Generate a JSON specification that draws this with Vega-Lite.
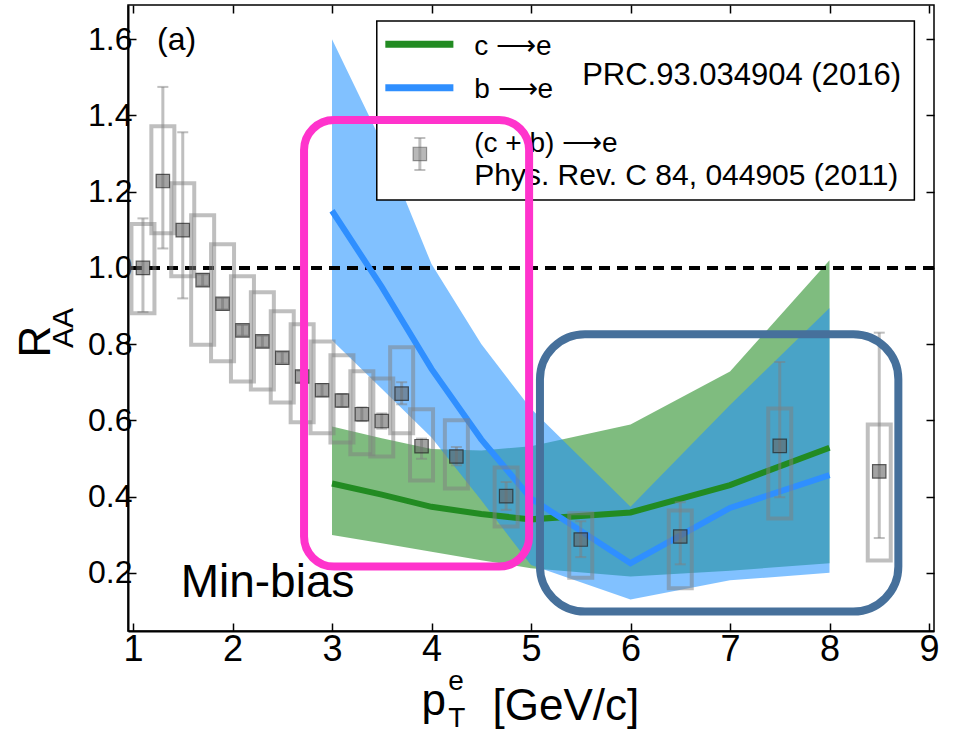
{
  "$schema": "https://vega.github.io/schema/vega-lite/v6.json",
  "width": 806,
  "height": 626,
  "autosize": {"type": "none"},
  "padding": {"left": 128, "top": 5, "right": 27, "bottom": 106},
  "background": "white",
  "config": {
    "view": {"stroke": "#000000", "strokeWidth": 1.5},
    "axis": {
      "grid": false,
      "domainColor": "#000000",
      "domainWidth": 2,
      "tickColor": "#000000",
      "tickWidth": 1.5,
      "tickSize": -8,
      "labelColor": "#000000",
      "labelFont": "Liberation Sans"
    },
    "text": {"font": "Liberation Sans", "color": "#000000"}
  },
  "datasets": {
    "theory": [
      {"process": "c", "pt": 3, "mid": 0.434, "lo": 0.299, "hi": 0.584},
      {"process": "c", "pt": 3.5, "mid": 0.405, "lo": 0.277, "hi": 0.553},
      {"process": "c", "pt": 4, "mid": 0.373, "lo": 0.255, "hi": 0.525},
      {"process": "c", "pt": 4.5, "mid": 0.354, "lo": 0.233, "hi": 0.521},
      {"process": "c", "pt": 5, "mid": 0.340, "lo": 0.212, "hi": 0.532},
      {"process": "c", "pt": 6, "mid": 0.358, "lo": 0.190, "hi": 0.589},
      {"process": "c", "pt": 7, "mid": 0.430, "lo": 0.205, "hi": 0.728},
      {"process": "c", "pt": 8, "mid": 0.528, "lo": 0.225, "hi": 1.02},
      {"process": "b", "pt": 3, "mid": 1.15, "lo": 0.81, "hi": 1.60},
      {"process": "b", "pt": 3.5, "mid": 0.95, "lo": 0.683, "hi": 1.33},
      {"process": "b", "pt": 4, "mid": 0.735, "lo": 0.555, "hi": 1.01},
      {"process": "b", "pt": 4.5, "mid": 0.55, "lo": 0.39, "hi": 0.80},
      {"process": "b", "pt": 5, "mid": 0.395, "lo": 0.22, "hi": 0.63},
      {"process": "b", "pt": 6, "mid": 0.225, "lo": 0.13, "hi": 0.373},
      {"process": "b", "pt": 7, "mid": 0.37, "lo": 0.18, "hi": 0.64},
      {"process": "b", "pt": 8, "mid": 0.456, "lo": 0.20, "hi": 0.895}
    ],
    "phenix": [
      {"pt": 1.1, "raa": 1.0, "sys_lo": 0.881, "sys_hi": 1.115, "stat_lo": 0.884, "stat_hi": 1.130},
      {"pt": 1.3, "raa": 1.228, "sys_lo": 1.091, "sys_hi": 1.372, "stat_lo": 1.051, "stat_hi": 1.475},
      {"pt": 1.5, "raa": 1.099, "sys_lo": 0.978, "sys_hi": 1.222, "stat_lo": 0.92, "stat_hi": 1.356},
      {"pt": 1.7, "raa": 0.968, "sys_lo": 0.798, "sys_hi": 1.138, "stat_lo": 0.953, "stat_hi": 0.983},
      {"pt": 1.9, "raa": 0.906, "sys_lo": 0.755, "sys_hi": 1.062, "stat_lo": 0.891, "stat_hi": 0.921},
      {"pt": 2.1, "raa": 0.836, "sys_lo": 0.702, "sys_hi": 0.978, "stat_lo": 0.822, "stat_hi": 0.850},
      {"pt": 2.3, "raa": 0.807, "sys_lo": 0.681, "sys_hi": 0.936, "stat_lo": 0.792, "stat_hi": 0.822},
      {"pt": 2.5, "raa": 0.764, "sys_lo": 0.647, "sys_hi": 0.886, "stat_lo": 0.749, "stat_hi": 0.779},
      {"pt": 2.7, "raa": 0.715, "sys_lo": 0.595, "sys_hi": 0.852, "stat_lo": 0.700, "stat_hi": 0.730},
      {"pt": 2.9, "raa": 0.679, "sys_lo": 0.566, "sys_hi": 0.807, "stat_lo": 0.663, "stat_hi": 0.695},
      {"pt": 3.1, "raa": 0.652, "sys_lo": 0.542, "sys_hi": 0.771, "stat_lo": 0.635, "stat_hi": 0.669},
      {"pt": 3.3, "raa": 0.616, "sys_lo": 0.511, "sys_hi": 0.729, "stat_lo": 0.598, "stat_hi": 0.634},
      {"pt": 3.5, "raa": 0.598, "sys_lo": 0.505, "sys_hi": 0.710, "stat_lo": 0.578, "stat_hi": 0.618},
      {"pt": 3.7, "raa": 0.670, "sys_lo": 0.566, "sys_hi": 0.792, "stat_lo": 0.642, "stat_hi": 0.700},
      {"pt": 3.9, "raa": 0.532, "sys_lo": 0.442, "sys_hi": 0.629, "stat_lo": 0.499, "stat_hi": 0.552},
      {"pt": 4.25, "raa": 0.505, "sys_lo": 0.421, "sys_hi": 0.600, "stat_lo": 0.482, "stat_hi": 0.530},
      {"pt": 4.75, "raa": 0.401, "sys_lo": 0.321, "sys_hi": 0.476, "stat_lo": 0.365, "stat_hi": 0.438},
      {"pt": 5.5, "raa": 0.287, "sys_lo": 0.187, "sys_hi": 0.356, "stat_lo": 0.241, "stat_hi": 0.335},
      {"pt": 6.5, "raa": 0.295, "sys_lo": 0.159, "sys_hi": 0.363, "stat_lo": 0.222, "stat_hi": 0.385},
      {"pt": 7.5, "raa": 0.533, "sys_lo": 0.342, "sys_hi": 0.631, "stat_lo": 0.398, "stat_hi": 0.753},
      {"pt": 8.5, "raa": 0.466, "sys_lo": 0.232, "sys_hi": 0.589, "stat_lo": 0.291, "stat_hi": 0.830}
    ]
  },
  "resolve": {"axis": {"x": "independent", "y": "independent"}},
  "layer": [
    {
      "data": {"name": "theory"},
      "transform": [{"filter": "datum.process === 'c'"}],
      "mark": {"type": "area", "color": "#228B22", "opacity": 0.58},
      "encoding": {
        "x": {"field": "pt", "type": "quantitative",
              "scale": {"domain": [1, 9], "nice": false, "zero": false},
              "axis": {"orient": "bottom", "values": [1, 2, 3, 4, 5, 6, 7, 8, 9], "format": "d",
                       "labelFontSize": 36, "labelPadding": 9, "title": null}},
        "y": {"field": "lo", "type": "quantitative",
              "scale": {"domain": [0.047, 1.69], "nice": false, "zero": false},
              "axis": {"orient": "left", "values": [0.2, 0.4, 0.6, 0.8, 1.0, 1.2, 1.4, 1.6], "format": ".1f",
                       "labelFontSize": 32, "labelPadding": 4, "title": null}},
        "y2": {"field": "hi"}
      }
    },
    {
      "data": {"name": "theory"},
      "transform": [{"filter": "datum.process === 'b'"}],
      "mark": {"type": "area", "color": "#1E90FF", "opacity": 0.56},
      "encoding": {
        "x": {"field": "pt", "type": "quantitative", "scale": {"domain": [1, 9], "nice": false, "zero": false},
              "axis": {"orient": "top", "values": [1, 2, 3, 4, 5, 6, 7, 8, 9], "labels": false, "domain": false, "title": null}},
        "y": {"field": "lo", "type": "quantitative", "scale": {"domain": [0.047, 1.69], "nice": false, "zero": false},
              "axis": {"orient": "right", "values": [0.2, 0.4, 0.6, 0.8, 1.0, 1.2, 1.4, 1.6], "labels": false, "domain": false, "title": null}},
        "y2": {"field": "hi"}
      }
    },
    {
      "data": {"values": [{"unity": 1.0}]},
      "mark": {"type": "rule", "color": "#000000", "strokeWidth": 4, "strokeDash": [11, 7]},
      "encoding": {
        "y": {"field": "unity", "type": "quantitative", "scale": {"domain": [0.047, 1.69], "nice": false, "zero": false}, "axis": null}
      }
    },
    {
      "data": {"name": "theory"},
      "transform": [{"filter": "datum.process === 'c'"}],
      "mark": {"type": "line", "color": "#228B22", "strokeWidth": 6, "strokeCap": "butt"},
      "encoding": {
        "x": {"field": "pt", "type": "quantitative", "scale": {"domain": [1, 9], "nice": false, "zero": false}, "axis": null},
        "y": {"field": "mid", "type": "quantitative", "scale": {"domain": [0.047, 1.69], "nice": false, "zero": false}, "axis": null}
      }
    },
    {
      "data": {"name": "theory"},
      "transform": [{"filter": "datum.process === 'b'"}],
      "mark": {"type": "line", "color": "#2F8FFF", "strokeWidth": 6, "strokeCap": "butt"},
      "encoding": {
        "x": {"field": "pt", "type": "quantitative", "scale": {"domain": [1, 9], "nice": false, "zero": false}, "axis": null},
        "y": {"field": "mid", "type": "quantitative", "scale": {"domain": [0.047, 1.69], "nice": false, "zero": false}, "axis": null}
      }
    },
    {
      "data": {"name": "phenix"},
      "mark": {"type": "bar", "width": 23, "fillOpacity": 0, "stroke": "#808080", "strokeOpacity": 0.5, "strokeWidth": 4},
      "encoding": {
        "x": {"field": "pt", "type": "quantitative", "scale": {"domain": [1, 9], "nice": false, "zero": false}, "axis": null},
        "y": {"field": "sys_lo", "type": "quantitative", "scale": {"domain": [0.047, 1.69], "nice": false, "zero": false}, "axis": null},
        "y2": {"field": "sys_hi"}
      }
    },
    {
      "data": {"name": "phenix"},
      "mark": {"type": "rule", "color": "#808080", "opacity": 0.5, "strokeWidth": 3},
      "encoding": {
        "x": {"field": "pt", "type": "quantitative", "scale": {"domain": [1, 9], "nice": false, "zero": false}, "axis": null},
        "y": {"field": "stat_lo", "type": "quantitative", "scale": {"domain": [0.047, 1.69], "nice": false, "zero": false}, "axis": null},
        "y2": {"field": "stat_hi"}
      }
    },
    {
      "data": {"name": "phenix"},
      "mark": {"type": "tick", "orient": "horizontal", "size": 11, "thickness": 2, "color": "#808080", "opacity": 0.5},
      "encoding": {
        "x": {"field": "pt", "type": "quantitative", "scale": {"domain": [1, 9], "nice": false, "zero": false}, "axis": null},
        "y": {"field": "stat_lo", "type": "quantitative", "scale": {"domain": [0.047, 1.69], "nice": false, "zero": false}, "axis": null}
      }
    },
    {
      "data": {"name": "phenix"},
      "mark": {"type": "tick", "orient": "horizontal", "size": 11, "thickness": 2, "color": "#808080", "opacity": 0.5},
      "encoding": {
        "x": {"field": "pt", "type": "quantitative", "scale": {"domain": [1, 9], "nice": false, "zero": false}, "axis": null},
        "y": {"field": "stat_hi", "type": "quantitative", "scale": {"domain": [0.047, 1.69], "nice": false, "zero": false}, "axis": null}
      }
    },
    {
      "data": {"name": "phenix"},
      "mark": {"type": "point", "shape": "square", "size": 180, "filled": true, "fill": "#666666", "fillOpacity": 0.6, "stroke": "#222222", "strokeOpacity": 0.7, "strokeWidth": 1.2},
      "encoding": {
        "x": {"field": "pt", "type": "quantitative", "scale": {"domain": [1, 9], "nice": false, "zero": false}, "axis": null},
        "y": {"field": "raa", "type": "quantitative", "scale": {"domain": [0.047, 1.69], "nice": false, "zero": false}, "axis": null}
      }
    },
    {
      "data": {"values": [{"x": 3.45, "x2": 8.853, "y": 1.178, "y2": 1.648}]},
      "mark": {"type": "rect", "fill": "#ffffff", "stroke": "#000000", "strokeWidth": 1.5},
      "encoding": {
        "x": {"field": "x", "type": "quantitative", "scale": {"domain": [1, 9], "nice": false, "zero": false}, "axis": null},
        "x2": {"field": "x2"},
        "y": {"field": "y", "type": "quantitative", "scale": {"domain": [0.047, 1.69], "nice": false, "zero": false}, "axis": null},
        "y2": {"field": "y2"}
      }
    },
    {
      "data": {"values": [
        {"process": "c", "x": 3.536, "x2": 4.22, "y": 1.587},
        {"process": "b", "x": 3.536, "x2": 4.22, "y": 1.473}
      ]},
      "mark": {"type": "rule", "strokeWidth": 7, "strokeCap": "butt"},
      "encoding": {
        "x": {"field": "x", "type": "quantitative", "scale": {"domain": [1, 9], "nice": false, "zero": false}, "axis": null},
        "x2": {"field": "x2"},
        "y": {"field": "y", "type": "quantitative", "scale": {"domain": [0.047, 1.69], "nice": false, "zero": false}, "axis": null},
        "color": {"field": "process", "type": "nominal", "scale": {"domain": ["c", "b"], "range": ["#228B22", "#2F8FFF"]}, "legend": null}
      }
    },
    {
      "data": {"values": [{"x": 3.883, "y": 1.299, "lo": 1.257, "hi": 1.341}]},
      "layer": [
        {
          "mark": {"type": "rule", "color": "#808080", "opacity": 0.5, "strokeWidth": 3},
          "encoding": {
            "x": {"field": "x", "type": "quantitative", "scale": {"domain": [1, 9], "nice": false, "zero": false}, "axis": null},
            "y": {"field": "lo", "type": "quantitative", "scale": {"domain": [0.047, 1.69], "nice": false, "zero": false}, "axis": null},
            "y2": {"field": "hi"}
          }
        },
        {
          "mark": {"type": "tick", "orient": "horizontal", "size": 11, "thickness": 2, "color": "#808080", "opacity": 0.5},
          "encoding": {
            "x": {"field": "x", "type": "quantitative", "scale": {"domain": [1, 9], "nice": false, "zero": false}, "axis": null},
            "y": {"field": "lo", "type": "quantitative", "scale": {"domain": [0.047, 1.69], "nice": false, "zero": false}, "axis": null}
          }
        },
        {
          "mark": {"type": "tick", "orient": "horizontal", "size": 11, "thickness": 2, "color": "#808080", "opacity": 0.5},
          "encoding": {
            "x": {"field": "x", "type": "quantitative", "scale": {"domain": [1, 9], "nice": false, "zero": false}, "axis": null},
            "y": {"field": "hi", "type": "quantitative", "scale": {"domain": [0.047, 1.69], "nice": false, "zero": false}, "axis": null}
          }
        },
        {
          "mark": {"type": "point", "shape": "square", "size": 180, "filled": true, "fill": "#888888", "fillOpacity": 0.6, "stroke": "#555555", "strokeOpacity": 0.6, "strokeWidth": 1.2},
          "encoding": {
            "x": {"field": "x", "type": "quantitative", "scale": {"domain": [1, 9], "nice": false, "zero": false}, "axis": null},
            "y": {"field": "y", "type": "quantitative", "scale": {"domain": [0.047, 1.69], "nice": false, "zero": false}, "axis": null}
          }
        }
      ]
    },
    {
      "data": {"values": [
        {"label": "c ⟶e", "x": 4.429, "y": 1.559, "size": 28, "font": "Open Sans, DejaVu Sans"},
        {"label": "b ⟶e", "x": 4.429, "y": 1.445, "size": 28, "font": "Open Sans, DejaVu Sans"},
        {"label": "(c + b) ⟶e", "x": 4.429, "y": 1.305, "size": 28, "font": "Open Sans, DejaVu Sans"},
        {"label": "Phys. Rev. C 84, 044905 (2011)", "x": 4.429, "y": 1.217, "size": 30, "font": "Liberation Sans"},
        {"label": "PRC.93.034904 (2016)", "x": 5.514, "y": 1.480, "size": 31, "font": "Open Sans"}
      ]},
      "mark": {"type": "text", "align": "left", "baseline": "alphabetic", "color": "#000000"},
      "encoding": {
        "x": {"field": "x", "type": "quantitative", "scale": {"domain": [1, 9], "nice": false, "zero": false}, "axis": null},
        "y": {"field": "y", "type": "quantitative", "scale": {"domain": [0.047, 1.69], "nice": false, "zero": false}, "axis": null},
        "text": {"field": "label"},
        "size": {"field": "size", "type": "quantitative", "scale": null},
        "font": {"field": "font"}
      }
    },
    {
      "data": {"values": [{"x": 2.719, "x2": 4.981, "y": 0.216, "y2": 1.388}]},
      "mark": {"type": "rect", "fillOpacity": 0, "stroke": "#FF33CC", "strokeWidth": 8, "cornerRadius": 30},
      "encoding": {
        "x": {"field": "x", "type": "quantitative", "scale": {"domain": [1, 9], "nice": false, "zero": false}, "axis": null},
        "x2": {"field": "x2"},
        "y": {"field": "y", "type": "quantitative", "scale": {"domain": [0.047, 1.69], "nice": false, "zero": false}, "axis": null},
        "y2": {"field": "y2"}
      }
    },
    {
      "data": {"values": [{"x": 5.09, "x2": 8.692, "y": 0.098, "y2": 0.826}]},
      "mark": {"type": "rect", "fillOpacity": 0, "stroke": "#46709B", "strokeWidth": 8, "cornerRadius": 45},
      "encoding": {
        "x": {"field": "x", "type": "quantitative", "scale": {"domain": [1, 9], "nice": false, "zero": false}, "axis": null},
        "x2": {"field": "x2"},
        "y": {"field": "y", "type": "quantitative", "scale": {"domain": [0.047, 1.69], "nice": false, "zero": false}, "axis": null},
        "y2": {"field": "y2"}
      }
    },
    {
      "data": {"values": [
        {"label": "(a)", "x": 1.241, "y": 1.571, "size": 32, "font": "DejaVu Sans", "angle": 0},
        {"label": "Min-bias", "x": 1.479, "y": 0.136, "size": 46, "font": "Liberation Sans", "angle": 0},
        {"label": "p", "x": 3.90, "y": -0.1724, "size": 44, "font": "Liberation Sans", "angle": 0},
        {"label": "e", "x": 4.168, "y": -0.109, "size": 28, "font": "Liberation Sans", "angle": 0},
        {"label": "T", "x": 4.168, "y": -0.206, "size": 28, "font": "Liberation Sans", "angle": 0},
        {"label": "[GeV/c]", "x": 4.614, "y": -0.1855, "size": 44, "font": "Liberation Sans", "angle": 0},
        {"label": "R", "x": 0.17, "y": 0.765, "size": 44, "font": "Liberation Sans", "angle": 270},
        {"label": "AA", "x": 0.40, "y": 0.79, "size": 30, "font": "Liberation Sans", "angle": 270}
      ]},
      "mark": {"type": "text", "align": "left", "baseline": "alphabetic", "color": "#000000"},
      "encoding": {
        "x": {"field": "x", "type": "quantitative", "scale": {"domain": [1, 9], "nice": false, "zero": false}, "axis": null},
        "y": {"field": "y", "type": "quantitative", "scale": {"domain": [0.047, 1.69], "nice": false, "zero": false}, "axis": null},
        "text": {"field": "label"},
        "size": {"field": "size", "type": "quantitative", "scale": null},
        "font": {"field": "font"},
        "angle": {"field": "angle", "type": "quantitative", "scale": null}
      }
    }
  ]
}
